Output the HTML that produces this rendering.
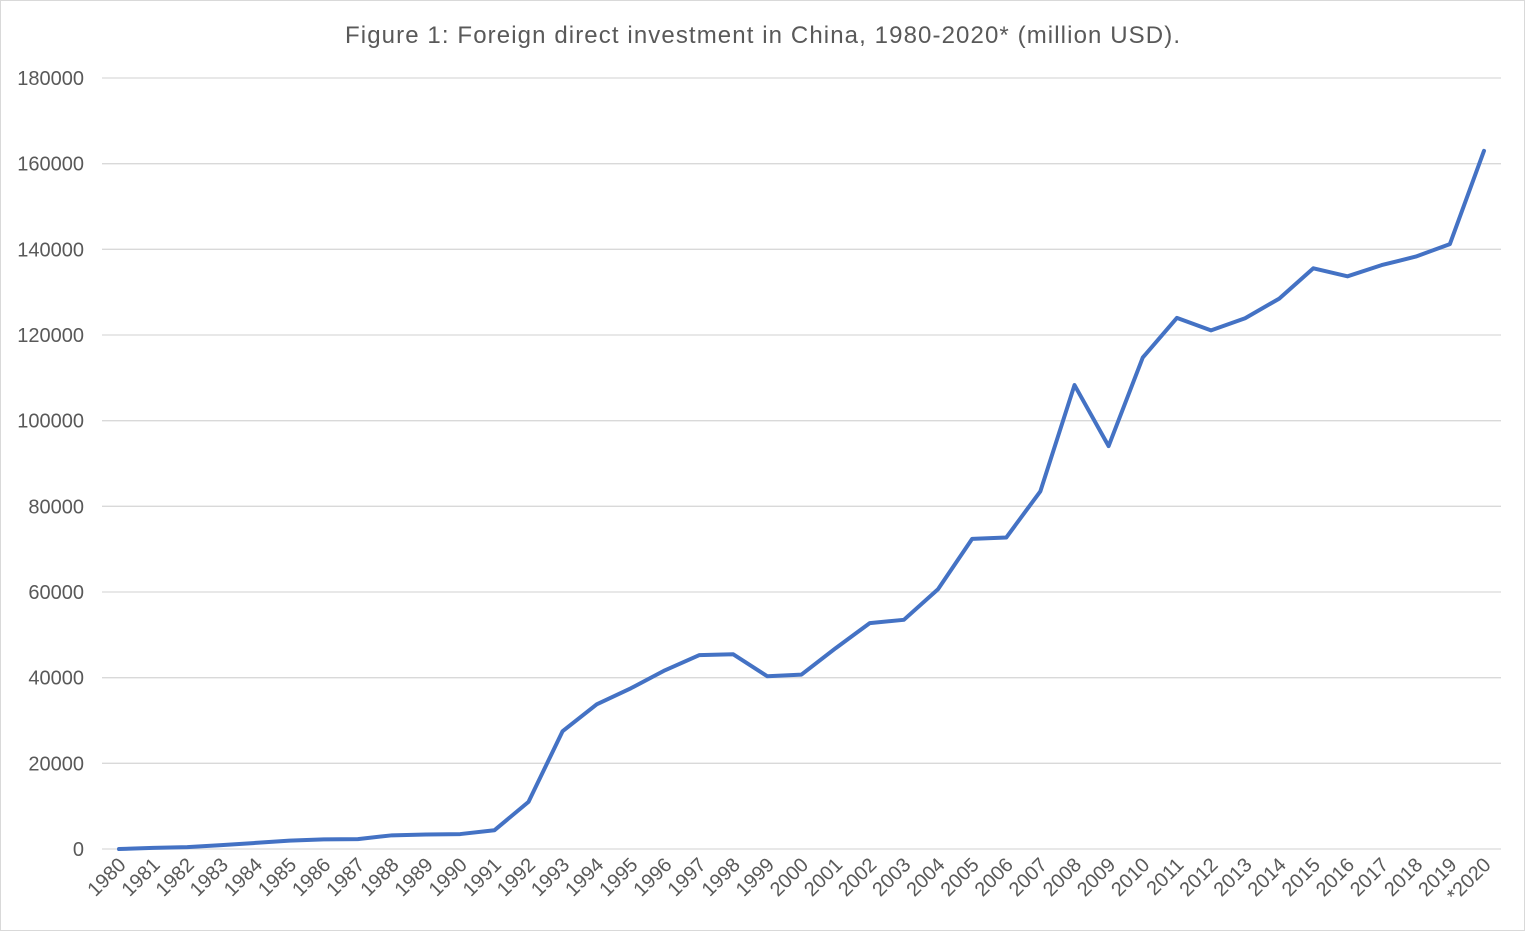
<!DOCTYPE html>
<html><head><style>
body{margin:0;background:#fff;}
svg{display:block;font-family:"Liberation Sans",sans-serif;}
</style></head><body>
<svg width="1525" height="931" viewBox="0 0 1525 931" xmlns="http://www.w3.org/2000/svg">
<rect x="0.5" y="0.5" width="1524" height="930" fill="#fff" stroke="#d9d9d9"/>
<text x="345" y="43" font-size="24" fill="#595959" textLength="835" lengthAdjust="spacing">Figure 1: Foreign direct investment in China, 1980-2020* (million USD).</text>
<g id="grid" stroke="#d9d9d9" stroke-width="1.3"></g>
<g id="yl" font-size="20" fill="#595959" text-anchor="end"></g>
<g id="xl" font-size="20" fill="#595959" text-anchor="end"></g>
<polyline id="ln" fill="none" stroke="#4472c4" stroke-width="4" stroke-linejoin="round" stroke-linecap="round"/>
</svg>
<script>
const ns="http://www.w3.org/2000/svg";
const y0=849,pxPer=771/180000,x0=119,dx=(1484-119)/40;
const g=document.getElementById('grid'),yl=document.getElementById('yl'),xl=document.getElementById('xl');
for(let v=0;v<=180000;v+=20000){const y=y0-v*pxPer;
 const l=document.createElementNS(ns,'line');l.setAttribute('x1',102);l.setAttribute('x2',1501);l.setAttribute('y1',y);l.setAttribute('y2',y);g.appendChild(l);
 const t=document.createElementNS(ns,'text');t.setAttribute('x',84);t.setAttribute('y',y+7);t.textContent=v;yl.appendChild(t);}
const d=[0,265,430,916,1419,1956,2244,2314,3194,3393,3487,4366,11008,27515,33787,37521,41726,45257,45463,40319,40715,46878,52743,53505,60630,72406,72715,83521,108312,94065,114734,123985,121080,123911,128500,135577,133700,136320,138310,141225,163000];
let pts=[];
d.forEach((v,i)=>{const x=x0+i*dx;pts.push(x+','+(y0-v*pxPer));
 const t=document.createElementNS(ns,'text');const tx=x+8,ty=866;
 t.setAttribute('transform',`translate(${tx},${ty}) rotate(-45)`);
 t.textContent=i==40?'*2020':(1980+i);xl.appendChild(t);});
document.getElementById('ln').setAttribute('points',pts.join(' '));
</script>
</body></html>
